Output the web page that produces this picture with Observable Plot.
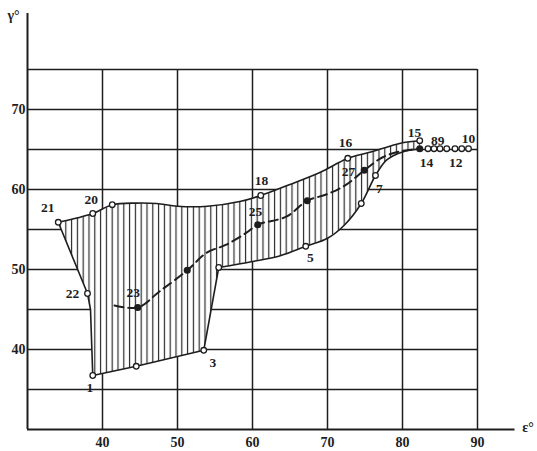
<!DOCTYPE html>
<html>
<head>
<meta charset="utf-8">
<script src="https://cdn.jsdelivr.net/npm/d3@7"></script>
<script src="https://cdn.jsdelivr.net/npm/@observablehq/plot@0.6"></script>
<style>
  html, body { margin: 0; padding: 0; background: #fff; }
  svg { display: block; }
</style>
</head>
<body>
<div id="chart"></div>
<script>
// Axis ticks and grid
const xTicks = [40, 50, 60, 70, 80, 90];
const yTicks = [40, 50, 60, 70];
const xGrid = [40, 50, 60, 70, 80, 90];
const yGrid = [35, 40, 45, 50, 55, 60, 65, 70, 75];

// Upper boundary of the shaded region (21 -> 20 -> ... -> 18 -> 16 -> 15)
const upperE = [34.1, 38.7, 41.3, 44.5, 47.2, 50.0, 54.0, 58.3, 61.1, 64.9, 68.9, 71.6, 72.7, 76.0, 78.3, 80.0, 82.3];
const upperG = [55.9, 57.0, 58.1, 58.3, 58.25, 57.9, 57.9, 58.5, 59.25, 60.6, 62.1, 63.4, 63.9, 64.75, 65.4, 65.85, 66.1];
// Lower-right boundary (14 -> 7 -> ... -> 5 -> corner at 55.5)
const lowerE = [82.3, 80.0, 77.9, 76.4, 74.5, 72.3, 70.0, 67.1, 63.6, 60.0, 55.5];
const lowerG = [65.1, 64.7, 63.7, 61.75, 58.25, 55.6, 53.9, 52.9, 51.7, 51.0, 50.25];
// Straight lower-left edges (corner -> 3 -> bottom -> 1 -> 22 -> 21)
const edgeE = [55.5, 53.5, 44.5, 38.7, 38.4, 38.0, 34.1];
const edgeG = [50.25, 39.9, 37.9, 36.75, 45.0, 47.0, 55.9];

// Open circles (measured points)
const openE = [34.1, 38.7, 41.3, 61.1, 72.7, 82.3, 76.4, 74.5, 67.1, 55.5, 53.5, 44.5, 38.7, 38.0,
               83.4, 84.2, 85.0, 85.9, 87.0, 87.9, 88.8];
const openG = [55.9, 57.0, 58.1, 59.25, 63.9, 66.1, 61.75, 58.25, 52.9, 50.25, 39.9, 37.9, 36.75, 47.0,
               65.1, 65.1, 65.1, 65.1, 65.1, 65.1, 65.1];

// Mean (dashed) curve and its filled dots
const meanE = [41.6, 44.7, 47.6, 51.3, 53.9, 56.5, 59.2, 60.7, 64.5, 67.3, 69.9, 72.5, 74.9, 77.3, 79.6, 82.3];
const meanG = [45.5, 45.25, 47.25, 49.9, 52.1, 53.1, 54.6, 55.6, 56.6, 58.6, 59.4, 60.6, 62.4, 64.0, 64.75, 65.1];
const dotE = [44.7, 51.3, 60.7, 67.3, 74.9, 82.3];
const dotG = [45.25, 49.9, 55.6, 58.6, 62.4, 65.1];

// Point labels
const labelText = ["21", "20", "22", "23", "1", "3", "5", "18", "25", "16", "27", "7", "15", "89", "10", "14", "12"];
const labelE = [32.7, 38.5, 36.0, 44.1, 38.3, 54.7, 67.7, 61.2, 60.4, 72.4, 72.8, 76.9, 81.6, 84.7, 88.8, 83.2, 87.1];
const labelG = [57.75, 58.75, 47.0, 47.1, 35.25, 38.4, 51.5, 61.1, 57.25, 65.9, 62.25, 60.1, 67.1, 66.1, 66.4, 63.4, 63.4];

const zip = (xs, ys) => xs.map((x, i) => ({x, y: ys[i]}));
const upper = zip(upperE, upperG);
const lower = zip(lowerE, lowerG);
const edge = zip(edgeE, edgeG);
const polygon = [...upper, ...lower, ...edge.slice(1)];
const openPts = zip(openE, openG);
const meanPts = zip(meanE, meanG);
const dots = zip(dotE, dotG);
const labels = labelText.map((t, i) => ({t, x: labelE[i], y: labelG[i]}));

const ink = "#1e1e1e";
const font = "'Liberation Serif', 'DejaVu Serif', serif";

const chart = Plot.plot({
  width: 537,
  height: 451,
  marginLeft: 27,
  marginRight: 22.5,
  marginTop: 13,
  marginBottom: 22,
  x: {domain: [30, 95]},
  y: {domain: [30, 82]},
  style: {fontFamily: font, fontSize: "14px", fontWeight: "bold", color: ink, background: "#fff"},
  marks: [
    Plot.ruleX(xGrid, {y1: 30, y2: 75, stroke: ink, strokeWidth: 1.5}),
    Plot.ruleY(yGrid, {x1: 30, x2: 90, stroke: ink, strokeWidth: 1.5}),
    Plot.line(polygon, {x: "x", y: "y", fill: "url(#hatchV)", stroke: "none", curve: "linear"}),
    Plot.line(upper, {x: "x", y: "y", stroke: ink, strokeWidth: 1.6, curve: "catmull-rom"}),
    Plot.line(lower, {x: "x", y: "y", stroke: ink, strokeWidth: 1.6, curve: "catmull-rom"}),
    Plot.line(edge, {x: "x", y: "y", stroke: ink, strokeWidth: 1.6, curve: "linear"}),
    Plot.line(meanPts, {x: "x", y: "y", stroke: ink, strokeWidth: 2, strokeDasharray: "9,5", curve: "catmull-rom"}),
    Plot.dot(dots, {x: "x", y: "y", r: 2.8, fill: ink, stroke: ink}),
    Plot.dot(openPts, {x: "x", y: "y", r: 2.8, fill: "#fff", stroke: ink, strokeWidth: 1.3}),
    Plot.ruleX([30], {y1: 30, y2: 82, stroke: ink, strokeWidth: 2}),
    Plot.ruleY([30], {x1: 30, x2: 95, stroke: ink, strokeWidth: 2}),
    Plot.axisX(xTicks, {tickSize: 0, tickPadding: 8, label: null, fontSize: 14}),
    Plot.axisY(yTicks, {tickSize: 0, tickPadding: 2, label: null, fontSize: 14}),
    Plot.text(labels, {x: "x", y: "y", text: "t", fontSize: 13.5, fill: ink}),
    Plot.text(["γ°"], {x: 30, y: 81.8, dx: -14, fontSize: 14, fill: ink}),
    Plot.text(["ε°"], {x: 95, y: 30.2, dx: 13, fontSize: 14, fill: ink})
  ]
});

const ns = "http://www.w3.org/2000/svg";
const defs = document.createElementNS(ns, "defs");
const pat = document.createElementNS(ns, "pattern");
pat.setAttribute("id", "hatchV");
pat.setAttribute("patternUnits", "userSpaceOnUse");
pat.setAttribute("width", "5.8");
pat.setAttribute("height", "10");
const bg = document.createElementNS(ns, "rect");
bg.setAttribute("width", "5.8");
bg.setAttribute("height", "10");
bg.setAttribute("fill", "#fff");
const ln = document.createElementNS(ns, "line");
ln.setAttribute("x1", "1.5"); ln.setAttribute("x2", "1.5");
ln.setAttribute("y1", "0"); ln.setAttribute("y2", "10");
ln.setAttribute("stroke", "#2a2a2a");
ln.setAttribute("stroke-width", "1.2");
pat.appendChild(bg); pat.appendChild(ln);
defs.appendChild(pat);
chart.insertBefore(defs, chart.firstChild);

document.getElementById("chart").appendChild(chart);
</script>
</body>
</html>
